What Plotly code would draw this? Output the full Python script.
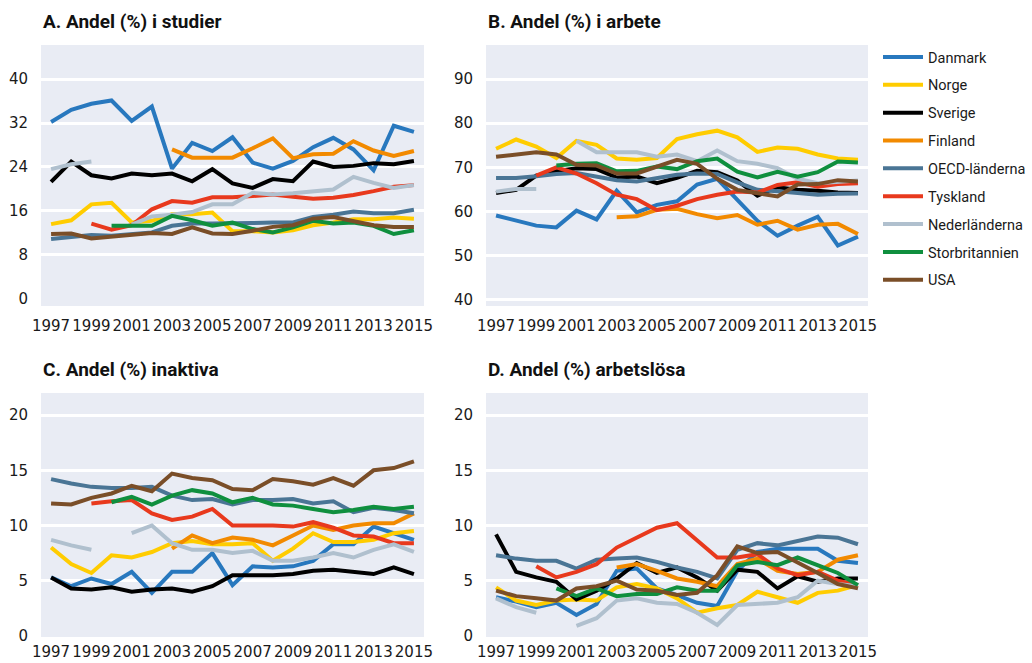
import plotly.graph_objects as go

years = list(range(1997, 2016))
countries = ["Danmark", "Norge", "Sverige", "Finland", "OECD-länderna",
             "Tyskland", "Nederländerna", "Storbritannien", "USA"]
colors = ["#2878BE", "#FFCC00", "#000000", "#F28A00", "#4A7595",
          "#E8391D", "#B0C0CE", "#0F8F3E", "#7A4E28"]
N = None

# A. Andel (%) i studier
studier = {
    "Danmark": [32.2, 34.4, 35.5, 36.1, 32.4, 35.0, 23.7, 28.4, 26.9, 29.4, 24.8, 23.7, 25.1, 27.6, 29.3, 27.2, 23.4, 31.5, 30.4],
    "Norge": [13.6, 14.3, 17.2, 17.5, 13.9, 14.2, 15.4, 15.4, 15.7, 12.3, 12.3, 12.1, 12.5, 13.4, 13.9, 14.5, 14.5, 14.8, 14.6],
    "Sverige": [21.3, 25.0, 22.5, 21.9, 22.8, 22.5, 22.8, 21.4, 23.6, 21.0, 20.2, 21.8, 21.4, 25.0, 24.0, 24.2, 24.7, 24.5, 25.1],
    "Finland": [N, N, N, N, N, N, 27.2, 25.7, 25.7, 25.7, 27.4, 29.2, 25.6, 26.3, 26.4, 28.7, 27.0, 26.0, 26.9],
    "OECD-länderna": [10.9, 11.3, 11.6, 11.5, 11.8, 12.1, 13.3, 13.7, 13.7, 13.7, 13.8, 13.9, 13.9, 14.9, 15.3, 15.9, 15.6, 15.6, 16.2],
    "Tyskland": [N, N, 13.7, 12.6, 13.4, 16.3, 17.8, 17.5, 18.5, 18.5, 18.7, 19.0, 18.6, 18.2, 18.4, 18.9, 19.6, 20.4, 20.7],
    "Nederländerna": [23.6, 24.5, 25.0, N, 13.5, 15.0, 15.3, 15.8, 17.2, 17.2, 19.3, 19.0, 19.2, 19.5, 19.9, 22.2, 21.1, 20.2, 20.7],
    "Storbritannien": [N, N, N, 13.3, 13.3, 13.3, 15.1, 14.3, 13.3, 13.9, 12.7, 12.1, 13.0, 14.2, 13.7, 13.9, 13.3, 11.8, 12.5],
    "USA": [11.8, 11.9, 11.0, 11.3, 11.6, 12.0, 11.8, 13.0, 11.9, 11.8, 12.4, 13.1, 13.4, 14.6, 14.9, 14.2, 13.4, 13.1, 13.1],
}

# B. Andel (%) i arbete
arbete = {
    "Danmark": [59.1, 57.9, 56.8, 56.4, 60.2, 58.2, 64.7, 59.8, 61.5, 62.3, 66.1, 67.4, 62.5, 57.9, 54.5, 56.8, 58.8, 52.3, 54.3],
    "Norge": [74.2, 76.3, 74.7, 72.1, 76.0, 75.1, 72.0, 71.7, 72.1, 76.4, 77.5, 78.3, 76.8, 73.5, 74.5, 74.2, 72.9, 72.0, 71.7],
    "Sverige": [64.2, 64.9, 68.1, 69.1, 69.8, 69.6, 67.7, 67.9, 66.4, 67.6, 69.2, 68.9, 67.0, 63.6, 65.5, 64.9, 64.7, 64.3, 64.2],
    "Finland": [N, N, N, N, N, N, 58.7, 58.9, 60.4, 60.6, 59.4, 58.5, 59.2, 57.0, 57.9, 55.9, 57.0, 57.2, 54.9],
    "OECD-länderna": [67.6, 67.6, 68.0, 68.5, 68.7, 67.9, 67.1, 66.8, 67.6, 68.3, 68.6, 68.5, 66.6, 64.9, 64.6, 64.3, 63.8, 64.0, 64.1],
    "Tyskland": [N, N, 68.1, 70.0, 68.6, 66.4, 63.8, 62.8, 60.3, 61.3, 62.8, 63.8, 64.5, 64.3, 66.0, 66.6, 65.6, 66.2, 66.4],
    "Nederländerna": [64.5, 65.1, 65.1, N, 76.0, 73.4, 73.4, 73.4, 72.4, 72.9, 71.4, 73.8, 71.4, 70.8, 69.8, 67.4, 66.4, 66.6, 67.0],
    "Storbritannien": [N, N, N, 70.4, 70.8, 70.9, 69.1, 69.2, 70.2, 69.6, 71.4, 72.0, 69.0, 67.7, 69.0, 67.9, 68.9, 71.3, 71.1],
    "USA": [72.4, 72.8, 73.4, 72.9, 70.6, 70.4, 68.6, 68.6, 70.2, 71.7, 70.8, 67.4, 64.9, 64.2, 63.4, 66.1, 66.2, 67.1, 66.8],
}

# C. Andel (%) inaktiva
inaktiva = {
    "Danmark": [5.3, 4.5, 5.2, 4.7, 5.8, 3.9, 5.8, 5.8, 7.5, 4.6, 6.3, 6.2, 6.3, 6.8, 8.3, 8.3, 9.9, 9.3, 8.7],
    "Norge": [8.0, 6.5, 5.7, 7.3, 7.1, 7.6, 8.4, 8.6, 8.3, 8.3, 8.4, 6.8, 7.9, 9.3, 8.5, 8.5, 8.7, 9.3, 9.5],
    "Sverige": [5.3, 4.3, 4.2, 4.4, 4.0, 4.2, 4.3, 4.0, 4.5, 5.5, 5.5, 5.5, 5.6, 5.9, 6.0, 5.8, 5.6, 6.2, 5.6],
    "Finland": [N, N, N, N, N, N, 7.9, 9.1, 8.4, 8.9, 8.7, 8.2, 9.1, 10.0, 9.6, 10.0, 10.2, 10.2, 11.1],
    "OECD-länderna": [14.2, 13.8, 13.5, 13.4, 13.4, 13.5, 12.7, 12.3, 12.4, 11.9, 12.3, 12.3, 12.4, 12.0, 12.2, 11.2, 11.6, 11.4, 11.1],
    "Tyskland": [N, N, 12.0, 12.2, 12.3, 11.1, 10.5, 10.8, 11.5, 10.0, 10.0, 10.0, 9.9, 10.3, 9.8, 9.1, 9.0, 8.4, 8.4],
    "Nederländerna": [8.7, 8.2, 7.8, N, 9.3, 10.0, 8.4, 7.8, 7.8, 7.5, 7.7, 6.8, 6.8, 7.1, 7.5, 7.1, 7.8, 8.3, 7.6],
    "Storbritannien": [N, N, N, 12.1, 12.6, 11.9, 12.7, 13.2, 12.9, 12.1, 12.5, 11.9, 11.8, 11.5, 11.2, 11.4, 11.7, 11.5, 11.7],
    "USA": [12.0, 11.9, 12.5, 12.9, 13.6, 13.1, 14.7, 14.3, 14.1, 13.3, 13.2, 14.2, 14.0, 13.7, 14.3, 13.6, 15.0, 15.2, 15.8],
}

# D. Andel (%) arbetslösa
arbetslosa = {
    "Danmark": [3.5, 3.1, 2.6, 3.0, 1.9, 2.9, 5.9, 6.1, 4.3, 3.7, 3.0, 2.7, 5.9, 7.6, 7.9, 7.9, 7.9, 6.8, 6.6],
    "Norge": [4.4, 3.2, 2.8, 3.2, 3.3, 3.2, 4.4, 4.7, 4.3, 3.4, 2.1, 2.5, 2.8, 4.0, 3.5, 3.0, 3.9, 4.1, 4.6],
    "Sverige": [9.2, 5.8, 5.3, 4.9, 3.3, 4.1, 5.2, 6.6, 5.7, 6.2, 5.3, 4.1, 6.0, 5.8, 4.3, 5.4, 4.9, 5.2, 5.2],
    "Finland": [N, N, N, N, N, N, 6.2, 6.5, 5.9, 5.2, 4.9, 4.5, 6.5, 7.0, 5.9, 5.6, 5.8, 6.9, 7.3],
    "OECD-länderna": [7.3, 7.0, 6.8, 6.8, 6.1, 6.9, 7.0, 7.1, 6.7, 6.2, 5.8, 5.2, 7.8, 8.4, 8.2, 8.6, 9.0, 8.9, 8.3],
    "Tyskland": [N, N, 6.3, 5.3, 5.8, 6.5, 8.0, 8.9, 9.8, 10.2, 8.6, 7.1, 7.1, 7.4, 6.1, 5.5, 5.8, 5.0, 4.6],
    "Nederländerna": [3.4, 2.6, 2.1, N, 0.9, 1.6, 3.2, 3.4, 3.0, 2.9, 2.1, 1.0, 2.8, 2.9, 3.0, 3.5, 5.0, 4.7, 4.5],
    "Storbritannien": [N, N, N, 4.3, 3.6, 4.3, 3.6, 3.8, 3.8, 4.4, 4.1, 4.1, 6.4, 6.7, 6.4, 7.1, 6.4, 5.7, 4.6],
    "USA": [4.1, 3.6, 3.4, 3.2, 4.3, 4.5, 5.0, 4.2, 4.1, 3.7, 3.9, 5.5, 8.1, 7.5, 7.6, 6.7, 5.7, 4.7, 4.3],
}

panel_titles = ["A. Andel (%) i studier", "B. Andel (%) i arbete",
                "C. Andel (%) inaktiva", "D. Andel (%) arbetslösa"]
panel_data = [studier, arbete, inaktiva, arbetslosa]
xtick_years = list(range(1997, 2016, 2))
ytick_sets = [[0, 8, 16, 24, 32, 40], [40, 50, 60, 70, 80, 90],
              [0, 5, 10, 15, 20], [0, 5, 10, 15, 20]]
yranges = [[-1.3, 46.2], [38.6, 97.7], [-0.1, 22.0], [-0.1, 22.0]]

W, H = 1032, 663
BG = "#E9ECF4"
# pixel boxes: left, right, top, bottom
boxes = [(41, 424, 45, 306), (486, 868, 45, 306),
         (41, 424, 393, 637), (486, 868, 393, 637)]
x_standoff = [9, 9, 4, 4]

fig = go.Figure()
for p, data in enumerate(panel_data):
    xa = "x" if p == 0 else f"x{p+1}"
    ya = "y" if p == 0 else f"y{p+1}"
    for c, col in zip(countries, colors):
        fig.add_trace(go.Scatter(
            x=years, y=data[c], mode="lines", name=c,
            line=dict(color=col, width=4), legendgroup=c,
            showlegend=(p == 0), xaxis=xa, yaxis=ya,
            connectgaps=False, hoverinfo="x+y+name"))

layout = dict(
    width=W, height=H, margin=dict(l=0, r=0, t=0, b=0, autoexpand=False),
    paper_bgcolor="white", plot_bgcolor=BG,
    font=dict(family="DejaVu Sans", size=15, color="#1a1a1a"),
    showlegend=True,
    legend=dict(x=878 / W, y=1 - 41 / H, xanchor="left", yanchor="top",
                font=dict(family="Roboto", size=14.5, color="#1a1a1a"),
                bgcolor="rgba(0,0,0,0)", tracegroupgap=6, itemwidth=40),
)
annotations = []
for p in range(4):
    l, r, t, b = boxes[p]
    sx = "" if p == 0 else str(p + 1)
    layout[f"xaxis{sx}"] = dict(
        domain=[l / W, r / W], range=[1996.5, 2015.5], anchor=f"y{sx}",
        tickvals=xtick_years, ticktext=[str(y) for y in xtick_years],
        tickangle=0, showgrid=False, zeroline=False, showline=False, ticks="",
        ticklabelstandoff=x_standoff[p],
        tickfont=dict(size=15, family="DejaVu Sans", color="#1a1a1a"))
    layout[f"yaxis{sx}"] = dict(
        domain=[1 - b / H, 1 - t / H], range=yranges[p], anchor=f"x{sx}",
        tickvals=ytick_sets[p], showgrid=True, gridcolor="white", gridwidth=2.5,
        zeroline=True, zerolinecolor=BG, zerolinewidth=2.5, showline=False, ticks="",
        ticklabelstandoff=12, tickfont=dict(size=15, family="DejaVu Sans", color="#1a1a1a"))
    annotations.append(dict(
        text=f"<b>{panel_titles[p]}</b>", x=l / W, y=1 - (t - 10) / H,
        xref="paper", yref="paper", xanchor="left", yanchor="bottom",
        showarrow=False, font=dict(family="Roboto", size=19, color="#111111")))
layout["annotations"] = annotations
fig.update_layout(**layout)
fig.write_html("out.html", config={"displayModeBar": False},
               post_script="document.body.style.margin='0';document.body.style.overflow='hidden';")
